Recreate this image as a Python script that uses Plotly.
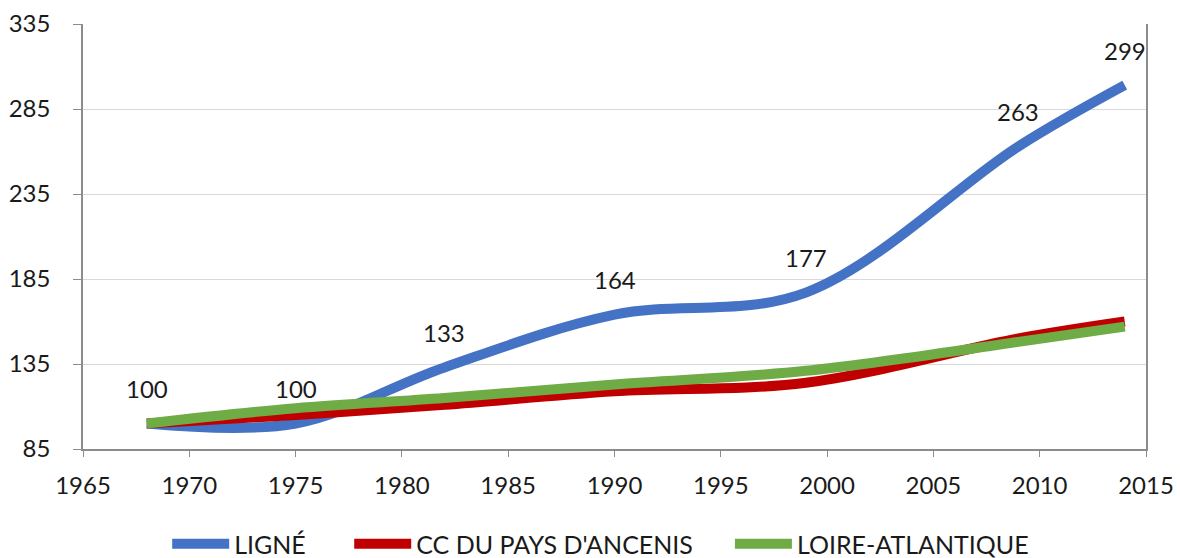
import plotly.graph_objects as go

years = [1968, 1975, 1982, 1990, 1999, 2009, 2014]
ligne = [100, 100, 133, 164, 177, 263, 299]
cc_ancenis = [100, 105, 111, 119, 124, 150, 160]
loire_atl = [100, 109, 115, 123, 131, 148, 157]
series_names = ["LIGNÉ", "CC DU PAYS D'ANCENIS", "LOIRE-ATLANTIQUE"]
y_ticks = [85, 135, 185, 235, 285, 335]
x_ticks = [1965, 1970, 1975, 1980, 1985, 1990, 1995, 2000, 2005, 2010, 2015]

FONT = "Lato"
NB = "\u00a0"
fig = go.Figure()
fig.add_trace(go.Scatter(x=years, y=ligne, name=series_names[0] + NB * 6, mode="lines",
                         line=dict(color="#4472C4", width=10, shape="spline", smoothing=1.0)))
fig.add_trace(go.Scatter(x=years, y=cc_ancenis, name=series_names[1] + NB * 5, mode="lines",
                         line=dict(color="#C00000", width=10, shape="spline", smoothing=1.0)))
fig.add_trace(go.Scatter(x=years, y=loire_atl, name=series_names[2], mode="lines",
                         line=dict(color="#6FAC46", width=10, shape="spline", smoothing=1.0)))

for xv, yv in zip(years, ligne):
    fig.add_annotation(x=xv, y=yv, text=str(yv), showarrow=False, yshift=35,
                       font=dict(family=FONT, size=24, color="#1a1a1a"))

fig.update_layout(
    width=1180, height=558,
    margin=dict(l=83, r=34, t=24, b=109),
    paper_bgcolor="white", plot_bgcolor="white",
    font=dict(family=FONT, size=24, color="#1a1a1a"),
    showlegend=True,
    legend=dict(orientation="h", x=0.487, xanchor="center",
                yref="container", y=0.025, yanchor="middle",
                font=dict(family=FONT, size=25, color="#1a1a1a"), itemwidth=57,
                tracegroupgap=0),
)
fig.update_xaxes(range=[1965, 2015], tickvals=x_ticks, showgrid=False, automargin=False,
                 showline=True, linecolor="#8c8c8c", linewidth=1.5,
                 ticks="outside", ticklen=6, tickcolor="#8c8c8c", ticklabelstandoff=8,
                 tickfont=dict(family=FONT, size=24, color="#1a1a1a"), zeroline=False)
fig.update_yaxes(range=[85, 335], tickvals=y_ticks, showgrid=True, gridcolor="#d9d9d9",
                 automargin=False,
                 showline=True, linecolor="#8c8c8c", linewidth=1.5, mirror=True,
                 ticks="outside", ticklen=8, tickcolor="#8c8c8c", ticklabelstandoff=18,
                 tickfont=dict(family=FONT, size=24, color="#1a1a1a"), zeroline=False)

fig.write_html("out.html", config={"displayModeBar": False},
               post_script="document.body.style.margin='0';")
